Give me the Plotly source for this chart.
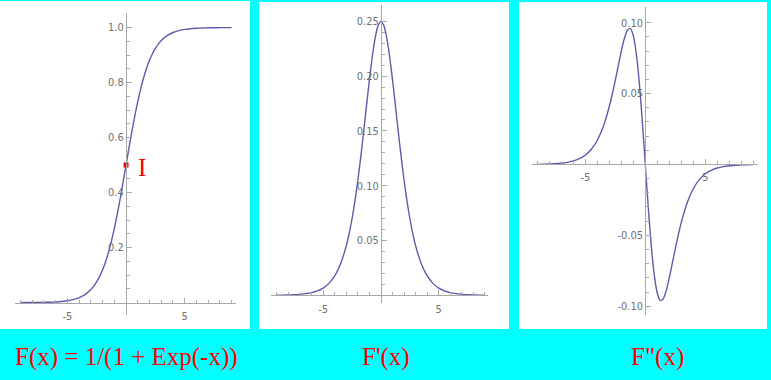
import plotly.graph_objects as go

# ---------------- data ----------------
x_vals = [-9, -8.5, -8, -7.5, -7, -6.5, -6, -5.5, -5, -4.5, -4, -3.5,
          -3, -2.75, -2.5, -2.25, -2, -1.75, -1.5, -1.25, -1, -0.75, -0.5, -0.25,
          0,
          0.25, 0.5, 0.75, 1, 1.25, 1.5, 1.75, 2, 2.25, 2.5, 2.75, 3,
          3.5, 4, 4.5, 5, 5.5, 6, 6.5, 7, 7.5, 8, 8.5, 9]

F_vals = [0.0001, 0.0002, 0.0003, 0.0006, 0.0009, 0.0015, 0.0025, 0.0041, 0.0067, 0.0110, 0.0180, 0.0293,
          0.0474, 0.0601, 0.0759, 0.0953, 0.1192, 0.1480, 0.1824, 0.2227, 0.2689, 0.3208, 0.3775, 0.4378,
          0.5,
          0.5622, 0.6225, 0.6792, 0.7311, 0.7773, 0.8176, 0.8520, 0.8808, 0.9047, 0.9241, 0.9399, 0.9526,
          0.9707, 0.9820, 0.9890, 0.9933, 0.9959, 0.9975, 0.9985, 0.9991, 0.9994, 0.9997, 0.9998, 0.9999]

dF_vals = [0.0001, 0.0002, 0.0003, 0.0006, 0.0009, 0.0015, 0.0025, 0.0041, 0.0066, 0.0109, 0.0177, 0.0285,
           0.0452, 0.0565, 0.0701, 0.0862, 0.1050, 0.1261, 0.1491, 0.1731, 0.1966, 0.2179, 0.2350, 0.2461,
           0.25,
           0.2461, 0.2350, 0.2179, 0.1966, 0.1731, 0.1491, 0.1261, 0.1050, 0.0862, 0.0701, 0.0565, 0.0452,
           0.0285, 0.0177, 0.0109, 0.0066, 0.0041, 0.0025, 0.0015, 0.0009, 0.0006, 0.0003, 0.0002, 0.0001]

ddF_vals = [0.0001, 0.0002, 0.0003, 0.0006, 0.0009, 0.0015, 0.0025, 0.0041, 0.0065, 0.0107, 0.0171, 0.0268,
            0.0409, 0.0497, 0.0595, 0.0698, 0.0800, 0.0888, 0.0947, 0.0960, 0.0909, 0.0781, 0.0576, 0.0306,
            0.0,
            -0.0306, -0.0576, -0.0781, -0.0909, -0.0960, -0.0947, -0.0888, -0.0800, -0.0698, -0.0595, -0.0497, -0.0409,
            -0.0268, -0.0171, -0.0107, -0.0065, -0.0041, -0.0025, -0.0015, -0.0009, -0.0006, -0.0003, -0.0002, -0.0001]

point_I = (0, 0.5)
point_label = "I"

x_major = [-5, 5]
x_major_text = ["-5", "5"]
x_minor = [-9, -8, -7, -6, -4, -3, -2, -1, 1, 2, 3, 4, 6, 7, 8, 9]

y1_major = [0.2, 0.4, 0.6, 0.8, 1.0]
y1_major_text = ["0.2", "0.4", "0.6", "0.8", "1.0"]
y1_minor = [0.05, 0.1, 0.15, 0.25, 0.3, 0.35, 0.45, 0.5, 0.55, 0.65, 0.7, 0.75, 0.85, 0.9, 0.95]

y2_major = [0.05, 0.10, 0.15, 0.20, 0.25]
y2_major_text = ["0.05", "0.10", "0.15", "0.20", "0.25"]
y2_minor = [0.01, 0.02, 0.03, 0.04, 0.06, 0.07, 0.08, 0.09, 0.11, 0.12, 0.13, 0.14,
            0.16, 0.17, 0.18, 0.19, 0.21, 0.22, 0.23, 0.24]

y3_major = [-0.10, -0.05, 0.05, 0.10]
y3_major_text = ["-0.10", "-0.05", "0.05", "0.10"]
y3_minor = [-0.09, -0.08, -0.07, -0.06, -0.04, -0.03, -0.02, -0.01,
            0.01, 0.02, 0.03, 0.04, 0.06, 0.07, 0.08, 0.09]

titles = ["F(x) = 1/(1 + Exp(-x))", "F'(x)", 'F"(x)']

# ---------------- styling ----------------
W, H = 771, 380
CURVE = "#5c5cac"
AXC = "#a8a8a8"
TICKFONT = dict(family="DejaVu Sans Condensed, Liberation Sans Narrow, Arial Narrow, sans-serif",
                size=11, color="#707070")
SERIF = "Liberation Serif, Times New Roman, serif"

def px_x(p):
    return p / W

def px_y(p):
    return 1 - p / H

fig = go.Figure()

for i, yv in enumerate([F_vals, dF_vals, ddF_vals]):
    suf = "" if i == 0 else str(i + 1)
    fig.add_trace(go.Scatter(x=x_vals, y=yv, mode="lines",
                             line=dict(color=CURVE, width=1.4, shape="spline", smoothing=0.6),
                             xaxis="x" + suf, yaxis="y" + suf, hoverinfo="skip"))

fig.add_trace(go.Scatter(x=[point_I[0]], y=[point_I[1]], mode="markers",
                         marker=dict(symbol="square", size=5, color="#ff0000"),
                         xaxis="x", yaxis="y", hoverinfo="skip"))

panels = [
    dict(xr=[-9.5, 9.4], xdom=(14.6, 236.3), yr=[-0.045, 1.054], ydom=(315, 12.7),
         x0px=126, y0px=302.5, ymaj=y1_major, ytxt=y1_major_text, ymin=y1_minor),
    dict(xr=[-9.54, 9.26], xdom=(270.7, 488), yr=[-0.007, 0.2649], ydom=(303, 5),
         x0px=381, y0px=295.3, ymaj=y2_major, ytxt=y2_major_text, ymin=y2_minor),
    dict(xr=[-9.47, 9.37], xdom=(531.7, 757.7), yr=[-0.1062, 0.1111], ydom=(315, 7),
         x0px=645.3, y0px=163.5, ymaj=y3_major, ytxt=y3_major_text, ymin=y3_minor),
]

layout_axes = {}
for i, p in enumerate(panels):
    suf = "" if i == 0 else str(i + 1)
    layout_axes["xaxis" + suf] = dict(
        domain=[px_x(p["xdom"][0]), px_x(p["xdom"][1])], range=p["xr"],
        anchor="free", position=px_y(p["y0px"]),
        showgrid=False, zeroline=False, showline=True, linecolor=AXC, linewidth=1,
        tickmode="array", tickvals=x_major, ticktext=x_major_text,
        ticks="inside", ticklen=5, tickcolor=AXC, tickwidth=1, tickfont=TICKFONT,
        ticklabelstandoff=3,
        minor=dict(tickmode="array", tickvals=x_minor, ticks="inside", ticklen=3,
                   tickcolor=AXC, tickwidth=1),
        fixedrange=True)
    layout_axes["yaxis" + suf] = dict(
        domain=[px_y(p["ydom"][0]), px_y(p["ydom"][1])], range=p["yr"],
        anchor="free", position=px_x(p["x0px"]),
        showgrid=False, zeroline=False, showline=True, linecolor=AXC, linewidth=1,
        tickmode="array", tickvals=p["ymaj"], ticktext=p["ytxt"],
        ticks="inside", ticklen=5, tickcolor=AXC, tickwidth=1, tickfont=TICKFONT,
        minor=dict(tickmode="array", tickvals=p["ymin"], ticks="inside", ticklen=3,
                   tickcolor=AXC, tickwidth=1),
        fixedrange=True)

panel_boxes = [(0, 250, 1, 329), (259, 509, 2, 329), (519, 767, 2, 329)]
shapes = [dict(type="rect", xref="paper", yref="paper",
               x0=px_x(a), x1=px_x(b), y0=px_y(d), y1=px_y(c),
               fillcolor="white", line=dict(width=0), layer="below")
          for a, b, c, d in panel_boxes]

annotations = [
    dict(x=point_I[0], y=point_I[1], xref="x", yref="y", text=point_label,
         showarrow=False, xshift=16, yshift=-2,
         font=dict(family=SERIF, size=25, color="#ff0000")),
]
for t, cx in zip(titles, [126, 386, 657]):
    annotations.append(dict(x=px_x(cx), y=px_y(356.5), xref="paper", yref="paper",
                            text=t, showarrow=False, xanchor="center", yanchor="middle",
                            font=dict(family=SERIF, size=25, color="#ff0000")))

fig.update_layout(
    width=W, height=H, margin=dict(l=0, r=0, t=0, b=0),
    paper_bgcolor="#00ffff", plot_bgcolor="rgba(0,0,0,0)",
    showlegend=False, shapes=shapes, annotations=annotations,
    **layout_axes,
)

fig.write_html("out.html", config={"displayModeBar": False},
               post_script="document.body.style.margin='0';document.body.style.background='#00ffff';")
